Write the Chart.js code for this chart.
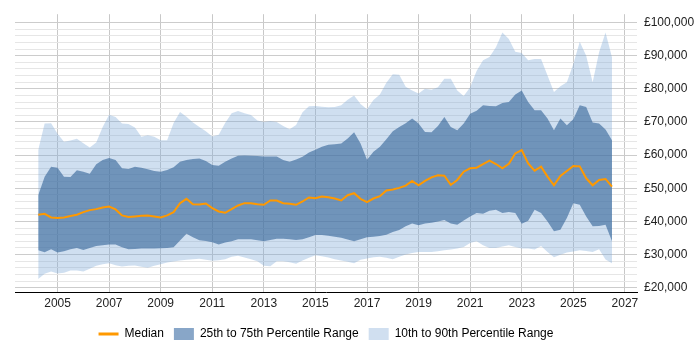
<!DOCTYPE html>
<html>
<head>
<meta charset="utf-8">
<script src="https://cdn.jsdelivr.net/npm/chart.js@4.4.1/dist/chart.umd.min.js"></script>
<style>
  html, body { margin: 0; padding: 0; background: #fff; }
</style>
</head>
<body>
<canvas id="salaryChart" width="700" height="350"></canvas>
<script>
// quarter points (decimal years) along the x axis
const quarters = [
  2004.25, 2004.5, 2004.75, 2005, 2005.25, 2005.5, 2005.75, 2006, 2006.25, 2006.5,
  2006.75, 2007, 2007.25, 2007.5, 2007.75, 2008, 2008.25, 2008.5, 2008.75, 2009,
  2009.25, 2009.5, 2009.75, 2010, 2010.25, 2010.5, 2010.75, 2011, 2011.25, 2011.5,
  2011.75, 2012, 2012.25, 2012.5, 2012.75, 2013, 2013.25, 2013.5, 2013.75, 2014,
  2014.25, 2014.5, 2014.75, 2015, 2015.25, 2015.5, 2015.75, 2016, 2016.25, 2016.5,
  2016.75, 2017, 2017.25, 2017.5, 2017.75, 2018, 2018.25, 2018.5, 2018.75, 2019,
  2019.25, 2019.5, 2019.75, 2020, 2020.25, 2020.5, 2020.75, 2021, 2021.25, 2021.5,
  2021.75, 2022, 2022.25, 2022.5, 2022.75, 2023, 2023.25, 2023.5, 2023.75, 2024,
  2024.25, 2024.5, 2024.75, 2025, 2025.25, 2025.5, 2025.75, 2026, 2026.25, 2026.5
];

// salary values in £ thousands
const median = [
  42, 42.3, 41.2, 41, 41.2, 41.6, 42, 42.8, 43.4, 43.7,
  44.2, 44.5, 43.6, 41.8, 41.3, 41.5, 41.7, 41.8, 41.5, 41.2,
  41.8, 42.8, 45.5, 46.8, 45.2, 45.1, 45.4, 44, 43, 42.6,
  43.7, 44.8, 45.5, 45.5, 45.2, 45, 46.3, 46.3, 45.5, 45.3,
  45, 46, 47.2, 47, 47.5, 47.3, 46.9, 46.3, 47.9, 48.5,
  46.8, 45.8, 46.9, 47.6, 49.3, 49.6, 50.1, 50.8, 52.2, 50.9,
  52.2, 53.3, 53.9, 53.8, 51, 52.5, 55, 56, 56.2, 57.3,
  58.3, 57.3, 56, 57.4, 60.5, 61.5, 57.5, 55.3, 56.5, 53.5,
  50.9, 53.7, 55.2, 56.7, 56.6, 53, 50.9, 52.5, 52.8, 50.5
];
const p75 = [
  47.9, 53.5, 56.5, 56.2, 53.5, 53.4, 55.4, 55, 54.4, 57.2,
  58.5, 59.1, 58.5, 56, 55.8, 56.5, 56.2, 55.7, 55.2, 55,
  55.5, 56.3, 58, 58.5, 58.8, 59, 58.2, 57, 56.8, 58,
  59, 59.8, 59.9, 59.8, 59.7, 59.6, 59.6, 59.6, 58.5, 58,
  58.7, 59.5, 60.8, 61.6, 62.5, 63.1, 63.3, 63.5, 65, 66.9,
  63.5, 58.6, 61, 62.5, 64.8, 67.2, 68.5, 69.6, 71, 69.5,
  67, 66.9, 68.8, 71.5, 68.5, 67.5, 69.5, 72.5, 73.4, 75,
  74.8, 74.7, 75.7, 76, 78.3, 79.5, 76, 73.5, 73.5, 71,
  67.5, 71, 69, 70.8, 75, 74.5, 69.8, 69.5, 67.7, 64.5
];
const p25 = [
  31.3, 30.7, 31.6, 30.6, 31, 31.6, 32, 31.4, 32, 32.6,
  32.8, 33, 33, 32.2, 31.6, 31.7, 31.8, 31.8, 31.8, 31.9,
  32, 32.2, 34.2, 36.3, 35.2, 34.3, 34.1, 33.7, 33, 33.6,
  34, 34.6, 34.6, 34.6, 34.3, 34, 34.4, 34.8, 34.8, 34.6,
  34.4, 34.6, 35.2, 35.9, 35.9, 35.7, 35.4, 35.1, 34.5, 34,
  34.6, 35.2, 35.4, 35.6, 36, 36.8, 37.4, 38.5, 39.4, 38.8,
  39.4, 39.6, 40, 40.4, 39.4, 39, 40.3, 41.5, 42.5, 42.3,
  43.2, 43.5, 42.5, 42.8, 42.5, 39.3, 40.2, 43.5, 42.5, 40,
  37, 37.5, 41, 45.5, 45, 41.5, 38.5, 38.6, 39, 34
];
const p90 = [
  61.5, 69.5, 69.6, 66.4, 64, 64.4, 64.9, 63.6, 62.3, 63.8,
  68.5, 72.2, 71.5, 69.5, 69.4, 68.3, 65.5, 66, 65.5, 64.5,
  64.5, 69.7, 73, 71.6, 69.8, 68.5, 67.2, 65.6, 66.1, 69.7,
  72.6, 73.3, 72.6, 72.1, 70.4, 70, 70.3, 70, 68.8, 67.8,
  69.1, 72.9, 74.7, 74.8, 74.6, 74.4, 74.5, 75, 76.7, 78,
  75.4, 73.8, 76.6, 78.3, 81.8, 84.4, 84.2, 80.6, 79.5, 78.6,
  80, 79.7, 80.5, 83, 83, 79.5, 77.8, 80.5, 85.4, 88.6,
  89.6, 92.5, 97, 95, 91.2, 90.8, 88.6, 89, 89, 84,
  79, 80.8, 82, 87.5, 94.2, 90, 82, 91, 97, 89.5
];
const p10 = [
  22.6, 24.2, 24.9, 24.3, 24.5, 25.2, 25.2, 24.9, 25.7, 26.6,
  27.1, 27.4, 26.8, 26.4, 26.6, 26.7, 26.3, 26, 26.6, 27.1,
  27.6, 27.9, 28.2, 28.4, 28.6, 28.7, 28.4, 28.1, 28.3, 28.6,
  29.3, 29.6, 29.1, 28.6, 28, 26.6, 26.5, 28, 28, 27.7,
  27.2, 28.2, 29, 29.8, 29.5, 29.1, 28.6, 28.2, 27.8, 27.4,
  28.4, 28.8, 29.2, 29.3, 29, 28.6, 29.3, 30, 30.5, 30.8,
  30.8, 30.8, 31, 31.3, 31.5, 31.8, 32.3, 33.5, 34, 32.8,
  32, 32, 32.4, 32.8, 32.3, 31.8, 31.8, 31.5, 32.6, 30.8,
  29.2, 29.9, 30.6, 30.9, 31.3, 31.1, 30.8, 31.6, 28.5, 27.4
];

const xTickYears = [2005, 2007, 2009, 2011, 2013, 2015, 2017, 2019, 2021, 2023, 2025, 2027];
const yTickValues = [];
for (let v = 20000; v <= 100000; v += 2000) yTickValues.push(v);

const fontFamily = '"Liberation Sans", Arial, sans-serif';

function toPoints(values) {
    return quarters.map((q, i) => ({ x: q, y: values[i] * 1000 }));
}

const legendColours = {
    'Median': '#ff9900',
    '25th to 75th Percentile Range': '#88a6c8',
    '10th to 90th Percentile Range': '#d0dff0'
};

const ctx = document.getElementById('salaryChart').getContext('2d');

new Chart(ctx, {
    type: 'line',
    data: {
        datasets: [{
            label: 'Median',
            data: toPoints(median),
            borderColor: '#ff9900',
            borderWidth: 2,
            pointRadius: 0,
            fill: false,
            order: 0
        }, {
            label: '25th to 75th Percentile Range',
            data: toPoints(p75),
            borderColor: 'transparent',
            borderWidth: 0,
            backgroundColor: 'rgba(50, 98, 152, 0.6)',
            pointRadius: 0,
            fill: '+1',
            order: 1
        }, {
            label: '',
            data: toPoints(p25),
            borderColor: 'transparent',
            borderWidth: 0,
            pointRadius: 0,
            fill: false,
            order: 1
        }, {
            label: '10th to 90th Percentile Range',
            data: toPoints(p90),
            borderColor: 'transparent',
            borderWidth: 0,
            backgroundColor: 'rgba(130, 170, 215, 0.38)',
            pointRadius: 0,
            fill: '+1',
            order: 2
        }, {
            label: '',
            data: toPoints(p10),
            borderColor: 'transparent',
            borderWidth: 0,
            pointRadius: 0,
            fill: false,
            order: 2
        }]
    },
    options: {
        responsive: false,
        animation: false,
        layout: {
            padding: { left: 15, top: 5, right: 0, bottom: 0 }
        },
        scales: {
            x: {
                type: 'linear',
                min: 2003.35,
                max: 2027.47,
                afterBuildTicks: function(scale) {
                    scale.ticks = xTickYears.map(y => ({ value: y }));
                },
                afterFit: function(scale) {
                    scale.height = 26;
                },
                grid: {
                    color: '#c8c8c8',
                    drawTicks: false
                },
                border: { color: '#000', width: 1 },
                ticks: {
                    padding: 4,
                    maxRotation: 0,
                    autoSkip: false,
                    color: '#222',
                    font: { family: fontFamily, size: 12 },
                    callback: function(value) { return String(value); }
                }
            },
            y: {
                position: 'right',
                min: 18700,
                max: 102500,
                afterBuildTicks: function(scale) {
                    scale.ticks = yTickValues.map(v => ({ value: v }));
                },
                afterFit: function(scale) {
                    scale.width = 63;
                },
                grid: {
                    drawTicks: false,
                    color: function(c) {
                        return c.tick && c.tick.value % 10000 === 0 ? '#cccccc' : '#e6e6e6';
                    }
                },
                border: { display: false },
                ticks: {
                    padding: 7,
                    autoSkip: false,
                    color: '#222',
                    font: { family: fontFamily, size: 12 },
                    callback: function(value) {
                        return value % 10000 === 0 ? '£' + value.toLocaleString('en-GB') : '';
                    }
                }
            }
        },
        plugins: {
            tooltip: { enabled: false },
            legend: {
                position: 'bottom',
                fullSize: false,
                labels: {
                    usePointStyle: true,
                    pointStyleWidth: 20,
                    boxHeight: 12,
                    padding: 10,
                    color: '#222',
                    font: { family: fontFamily, size: 12 },
                    filter: item => item.text !== '',
                    generateLabels: function(chart) {
                        return chart.data.datasets.map((ds, i) => ({
                            text: ds.label,
                            datasetIndex: i,
                            pointStyle: i === 0 ? 'line' : 'rect',
                            fillStyle: legendColours[ds.label],
                            strokeStyle: i === 0 ? '#ff9900' : 'transparent',
                            lineWidth: i === 0 ? 3 : 0,
                            hidden: false
                        }));
                    }
                }
            }
        }
    }
});
</script>
</body>
</html>
